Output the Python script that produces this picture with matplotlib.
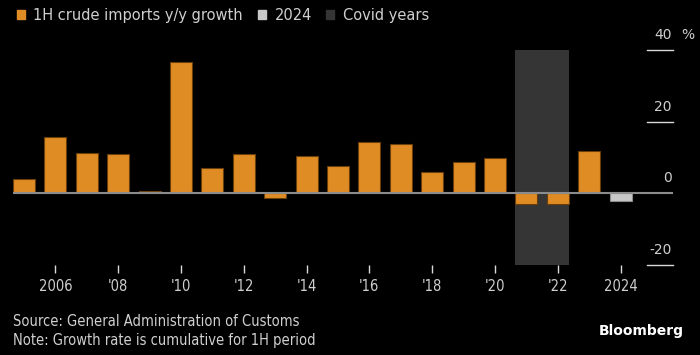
import matplotlib.pyplot as plt
import matplotlib.patches as patches
import matplotlib.transforms as mtransforms

years = list(range(2005, 2025))
growth = [4.0, 15.7, 11.3, 11.0, 0.6, 36.7, 7.1, 11.0, -1.3, 10.3,
          7.5, 14.2, 13.9, 5.9, 8.8, 10.0, -2.9, -3.0, 11.8, -2.2]
covid_years = [2021, 2022]
tick_years = [2006, 2008, 2010, 2012, 2014, 2016, 2018, 2020, 2022, 2024]
tick_labels = ['2006', "'08", "'10", "'12", "'14", "'16", "'18", "'20", "'22", '2024']
y_ticks = [40, 20, 0, -20]

ORANGE = '#e08c24'
GREY_2024 = '#c8c8c8'
COVID = '#353535'
TEXT = '#cfcfcf'
BG = '#000000'

fig = plt.figure(figsize=(7, 3.55), dpi=100, facecolor=BG)
ax = fig.add_axes([13 / 700, 1 - 265 / 355, 660 / 700, 215 / 355])
ax.set_facecolor(BG)
ax.set_xlim(2004.65, 2025.67)
ax.set_ylim(-20, 40)

bw = 0.7
ax.axvspan(covid_years[0] - bw / 2, covid_years[-1] + bw / 2, color=COVID, zorder=0, lw=0)

colors = [GREY_2024 if y == 2024 else ORANGE for y in years]
edges = ['#8a8a8a' if y == 2024 else '#6a3f0c' for y in years]
ax.bar(years, growth, width=bw, color=colors, edgecolor=edges, linewidth=0.8, zorder=2)

ax.axhline(0, color='#8c8c8c', lw=1.5, zorder=3)

# right-hand value labels sitting on short gridline stubs
trans = mtransforms.blended_transform_factory(ax.transAxes, ax.transData)
for v in y_ticks:
    if v != 0:
        ax.plot([634 / 660, 1.0], [v, v], color='#d8d8d8', lw=1.0, transform=trans,
                clip_on=False, zorder=3)
    ax.text(0.998, v + 2.2, str(v), color=TEXT, fontsize=10,
            ha='right', va='bottom', transform=trans)
ax.text(1.012, 40 + 2.2, '%', color=TEXT, fontsize=10, ha='left', va='bottom', transform=trans)

ax.set_yticks([])
ax.set_xticks(tick_years)
ax.set_xticklabels(tick_labels, color=TEXT, fontsize=10.5, fontstretch='condensed')
ax.tick_params(axis='x', colors='#d8d8d8', length=6, width=1, pad=4, labelcolor=TEXT)
for s in ax.spines.values():
    s.set_visible(False)

handles = [patches.Patch(color=ORANGE, label='1H crude imports y/y growth'),
           patches.Patch(color=GREY_2024, label='2024'),
           patches.Patch(color=COVID, label='Covid years')]
fig.legend(handles=handles, loc='upper left', bbox_to_anchor=(0.005, 1.015), ncol=3,
           frameon=False, fontsize=10.5, handlelength=0.55, handleheight=0.55,
           handletextpad=0.6, columnspacing=1.0, labelcolor=TEXT)

fig.text(13 / 700, 1 - 322 / 355, 'Source: General Administration of Customs',
         color=TEXT, fontsize=10.5, fontstretch='condensed', va='center')
fig.text(13 / 700, 1 - 340 / 355, 'Note: Growth rate is cumulative for 1H period',
         color=TEXT, fontsize=10.5, fontstretch='condensed', va='center')
fig.text(684 / 700, 1 - 331 / 355, 'Bloomberg', color='white', fontsize=10,
         fontweight='bold', ha='right', va='center')

plt.savefig('out.png', dpi=100, facecolor=BG)
